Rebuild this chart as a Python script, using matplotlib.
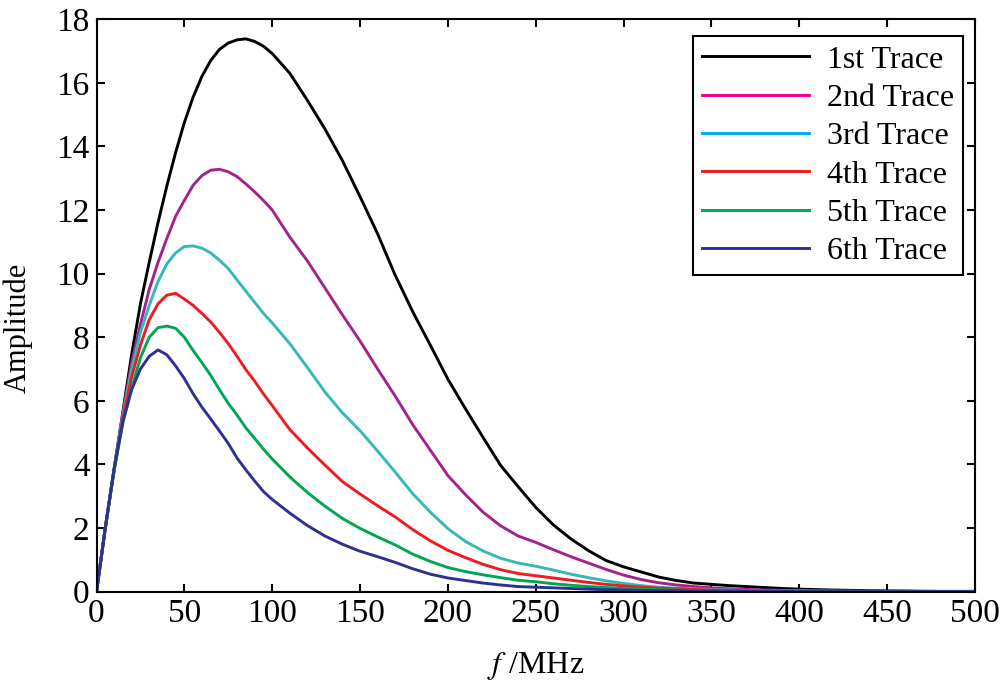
import matplotlib
matplotlib.use('Agg')
import matplotlib.pyplot as plt
from matplotlib.lines import Line2D

plt.rcParams['font.family'] = ['Liberation Serif', 'DejaVu Serif']
plt.rcParams['mathtext.fontset'] = 'stix'

# frequency samples (MHz)
freq = [0, 5, 10, 15, 20, 25, 30, 35, 40, 45, 50, 55, 60, 65, 70, 75, 80, 85, 90, 95, 100,
        110, 120, 130, 140, 150, 160, 170, 180, 190, 200,
        210, 220, 230, 240, 250, 260, 270, 280, 290, 300,
        310, 320, 330, 340, 350, 360, 370, 380, 390, 400,
        420, 440, 460, 480, 500]

# amplitude
trace1 = [0, 2.0, 3.85, 5.65, 7.45, 9.05, 10.35, 11.6, 12.75, 13.8, 14.75, 15.55, 16.2, 16.7, 17.05, 17.25, 17.35, 17.38, 17.3, 17.15, 16.92,
          16.3, 15.45, 14.55, 13.55, 12.42, 11.25, 9.95, 8.8, 7.75, 6.68,
          5.75, 4.85, 3.97, 3.3, 2.65, 2.1, 1.66, 1.29, 0.98, 0.78,
          0.62, 0.46, 0.35, 0.27, 0.23, 0.19, 0.16, 0.13, 0.1, 0.08,
          0.05, 0.03, 0.02, 0.01, 0.01]
trace2 = [0, 2.0, 3.85, 5.6, 7.2, 8.4, 9.5, 10.35, 11.1, 11.8, 12.3, 12.78, 13.08, 13.25, 13.28, 13.2, 13.05, 12.82, 12.57, 12.3, 12.0,
          11.15, 10.4, 9.55, 8.7, 7.88, 7.0, 6.15, 5.25, 4.45, 3.65,
          3.05, 2.5, 2.07, 1.75, 1.55, 1.32, 1.1, 0.9, 0.7, 0.52,
          0.38, 0.28, 0.21, 0.16, 0.12, 0.09, 0.07, 0.05, 0.04, 0.03,
          0.02, 0.01, 0.01, 0, 0]
trace3 = [0, 2.0, 3.85, 5.55, 7.0, 8.15, 9.0, 9.75, 10.3, 10.65, 10.85, 10.87, 10.8, 10.65, 10.42, 10.16, 9.8, 9.45, 9.1, 8.75, 8.45,
          7.8, 7.05, 6.28, 5.62, 5.06, 4.42, 3.76, 3.08, 2.5, 1.98,
          1.58, 1.28, 1.05, 0.9, 0.8, 0.68, 0.55, 0.44, 0.34, 0.26,
          0.19, 0.14, 0.11, 0.09, 0.07, 0.05, 0.04, 0.03, 0.02, 0.02,
          0.01, 0.01, 0, 0, 0]
trace4 = [0, 2.0, 3.8, 5.45, 6.75, 7.75, 8.55, 9.05, 9.32, 9.38, 9.2, 9.0, 8.75, 8.48, 8.15, 7.8, 7.4, 6.98, 6.62, 6.22, 5.85,
          5.1, 4.52, 3.98, 3.46, 3.07, 2.7, 2.35, 1.95, 1.6, 1.3,
          1.07, 0.86, 0.69, 0.57, 0.5, 0.43, 0.36, 0.29, 0.23, 0.18,
          0.14, 0.11, 0.09, 0.07, 0.05, 0.04, 0.03, 0.02, 0.02, 0.01,
          0.01, 0, 0, 0, 0]
trace5 = [0, 2.0, 3.8, 5.3, 6.4, 7.35, 8.0, 8.3, 8.35, 8.28, 8.0, 7.58, 7.2, 6.8, 6.35, 5.92, 5.55, 5.15, 4.82, 4.48, 4.17,
          3.61, 3.12, 2.69, 2.3, 1.99, 1.72, 1.47, 1.18, 0.95, 0.76,
          0.63, 0.53, 0.44, 0.36, 0.31, 0.25, 0.2, 0.16, 0.13, 0.1,
          0.08, 0.06, 0.05, 0.04, 0.03, 0.02, 0.02, 0.01, 0.01, 0.01,
          0, 0, 0, 0, 0]
trace6 = [0, 2.0, 3.85, 5.35, 6.35, 7.0, 7.4, 7.6, 7.45, 7.1, 6.7, 6.22, 5.8, 5.43, 5.05, 4.66, 4.2, 3.83, 3.48, 3.15, 2.9,
          2.47, 2.08, 1.75, 1.49, 1.27, 1.1, 0.92, 0.72, 0.55, 0.43,
          0.35, 0.27, 0.21, 0.16, 0.14, 0.12, 0.1, 0.08, 0.06, 0.05,
          0.04, 0.03, 0.03, 0.02, 0.02, 0.01, 0.01, 0.01, 0.01, 0,
          0, 0, 0, 0, 0]

labels = ['1st Trace', '2nd Trace', '3rd Trace', '4th Trace', '5th Trace', '6th Trace']
traces = [trace1, trace2, trace3, trace4, trace5, trace6]
line_colors = ['#000000', '#a3238e', '#35b8b6', '#ed1c24', '#00a651', '#2e3192']
legend_colors = ['#000000', '#ec008c', '#00aeef', '#ed1c24', '#00a651', '#2e3192']

fig = plt.figure(figsize=(10, 6.84), dpi=100)
ax = fig.add_axes([0.0965, 0.135, 0.8785, 0.837])

for y, c in zip(traces, line_colors):
    ax.plot(freq, y, color=c, lw=2.1)

ax.set_xlim(0, 500)
ax.set_ylim(0, 18)
ax.set_xticks(range(0, 501, 50))
ax.set_yticks(range(0, 19, 2))
ax.tick_params(direction='in', length=6, width=1.5, top=True, right=True,
               labelsize=24, pad=5)
for s in ax.spines.values():
    s.set_linewidth(1.5)

ax.set_xlabel('$f$ /MHz', fontsize=23, labelpad=15)
ax.set_ylabel('Amplitude', fontsize=22)
ax.yaxis.set_label_coords(-0.072, 0.46)

handles = [Line2D([0], [0], color=c, lw=2.1) for c in legend_colors]
leg = ax.legend(handles, labels, loc='upper right', bbox_to_anchor=(0.986, 0.970),
                borderaxespad=0, fontsize=23, handlelength=3.35, handletextpad=0.55,
                labelspacing=0.28, borderpad=0.28, fancybox=False, framealpha=1)
leg.get_frame().set_edgecolor('black')
leg.get_frame().set_linewidth(1.5)

fig.savefig('out.png', dpi=100)
